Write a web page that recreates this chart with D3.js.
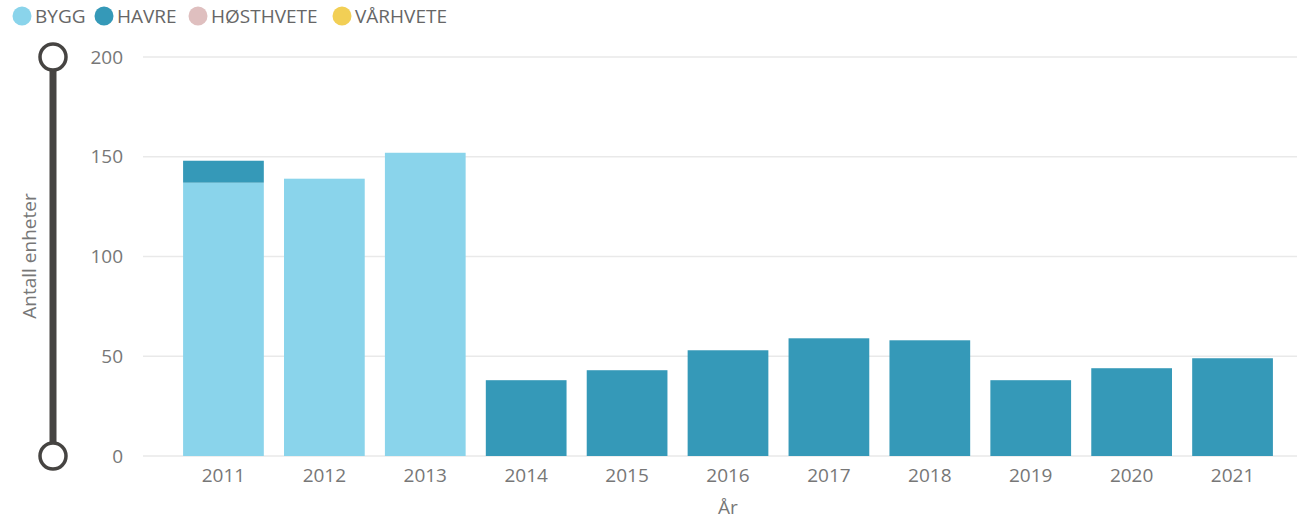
<!DOCTYPE html>
<html>
<head>
<meta charset="utf-8">
<script src="https://cdn.jsdelivr.net/npm/d3@7"></script>
<style>
  html, body { margin: 0; padding: 0; background: #fff; }
  svg { display: block; font-family: "Segoe UI", "Open Sans", sans-serif; }
</style>
</head>
<body>
<svg width="1297" height="519"></svg>
<script>
const years = ["2011", "2012", "2013", "2014", "2015", "2016", "2017", "2018", "2019", "2020", "2021"];
const seriesNames = ["BYGG", "HAVRE", "HØSTHVETE", "VÅRHVETE"];
const colors = ["#8AD4EB", "#3599B8", "#DFBFBF", "#F2CF55"];

const bygg      = [137, 139, 152, 0, 0, 0, 0, 0, 0, 0, 0];
const havre     = [11, 0, 0, 38, 43, 53, 59, 58, 38, 44, 49];
const hosthvete = [0, 0, 0, 0, 0, 0, 0, 0, 0, 0, 0];
const varhvete  = [0, 0, 0, 0, 0, 0, 0, 0, 0, 0, 0];
const yTicks = [0, 50, 100, 150, 200];

const rows = years.map((y, i) => ({
  year: y, BYGG: bygg[i], HAVRE: havre[i], "HØSTHVETE": hosthvete[i], "VÅRHVETE": varhvete[i]
}));

const svg = d3.select("svg");

const x = d3.scaleBand()
  .domain(years)
  .range([173, 1283])
  .paddingInner(0.2)
  .paddingOuter(0.1);

const y = d3.scaleLinear()
  .domain([0, 200])
  .range([456, 57]);

const color = d3.scaleOrdinal().domain(seriesNames).range(colors);

// gridlines
svg.append("g")
  .selectAll("line")
  .data(yTicks)
  .join("line")
  .attr("x1", 143)
  .attr("x2", 1297)
  .attr("y1", d => y(d))
  .attr("y2", d => y(d))
  .attr("stroke", "#e9e9e9")
  .attr("stroke-width", 1.5);

// y tick labels
svg.append("g")
  .selectAll("text")
  .data(yTicks)
  .join("text")
  .attr("x", 123)
  .attr("y", d => y(d))
  .attr("dy", "0.35em")
  .attr("text-anchor", "end")
  .attr("fill", "#777")
  .style("font-size", "19px")
  .text(d => d);

// stacked bars
const stacked = d3.stack().keys(seriesNames)(rows);

svg.append("g")
  .selectAll("g")
  .data(stacked)
  .join("g")
  .attr("fill", d => color(d.key))
  .selectAll("rect")
  .data(d => d.filter(s => s[1] - s[0] > 0))
  .join("rect")
  .attr("x", d => x(d.data.year))
  .attr("width", x.bandwidth())
  .attr("y", d => y(d[1]))
  .attr("height", d => y(d[0]) - y(d[1]));

// x tick labels
svg.append("g")
  .selectAll("text")
  .data(years)
  .join("text")
  .attr("x", d => x(d) + x.bandwidth() / 2)
  .attr("y", 482)
  .attr("text-anchor", "middle")
  .attr("fill", "#777")
  .style("font-size", "19px")
  .text(d => d);

// axis titles
svg.append("text")
  .attr("x", 728)
  .attr("y", 514)
  .attr("text-anchor", "middle")
  .attr("fill", "#777")
  .style("font-size", "19px")
  .text("År");

svg.append("text")
  .attr("transform", "translate(36,256) rotate(-90)")
  .attr("text-anchor", "middle")
  .attr("fill", "#777")
  .style("font-size", "19px")
  .text("Antall enheter");

// range slider on the y axis
const slider = svg.append("g");
slider.append("line")
  .attr("x1", 53).attr("x2", 53)
  .attr("y1", y(200)).attr("y2", y(0))
  .attr("stroke", "#464442")
  .attr("stroke-width", 7);
slider.selectAll("circle")
  .data([200, 0])
  .join("circle")
  .attr("cx", 53)
  .attr("cy", d => y(d))
  .attr("r", 13)
  .attr("fill", "#fff")
  .attr("stroke", "#464442")
  .attr("stroke-width", 3.5);

// legend
const legendX = [22, 104, 198, 342];
const legend = svg.append("g")
  .selectAll("g")
  .data(seriesNames)
  .join("g")
  .attr("transform", (d, i) => `translate(${legendX[i]},16)`);
legend.append("circle")
  .attr("r", 9.5)
  .attr("fill", d => color(d));
legend.append("text")
  .attr("x", 13)
  .attr("dy", "0.35em")
  .attr("fill", "#666")
  .style("font-size", "19px")
  .text(d => d);
</script>
</body>
</html>
